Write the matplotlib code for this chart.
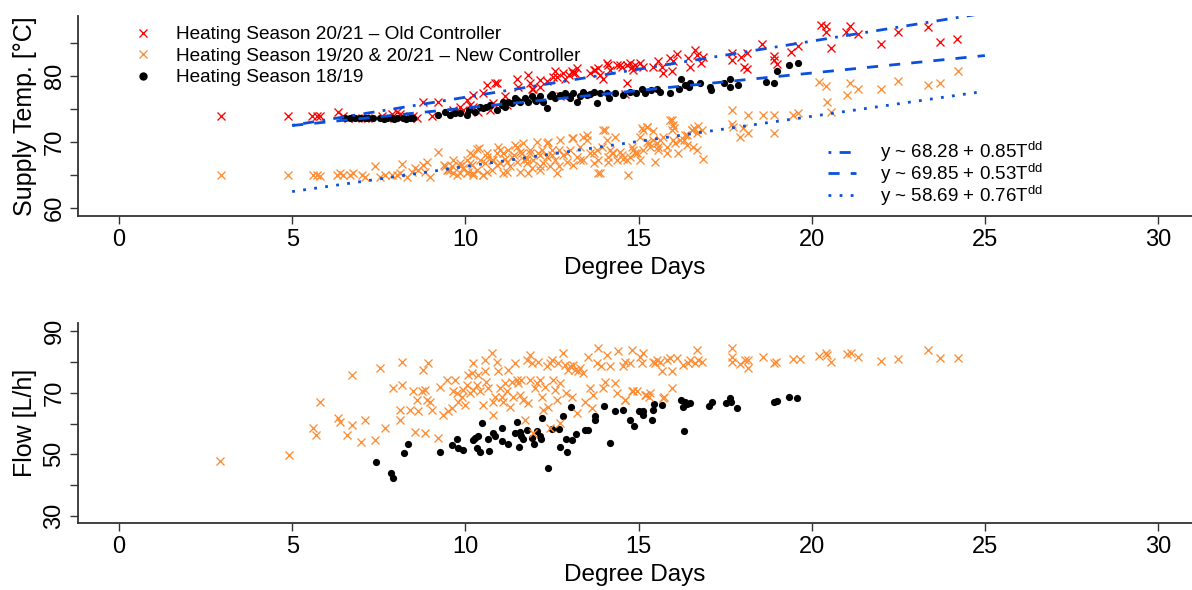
import matplotlib as mpl
mpl.use('Agg')
import matplotlib.pyplot as plt
from matplotlib.lines import Line2D
import numpy as np

plt.rcParams['font.family'] = ['Liberation Sans', 'DejaVu Sans']
plt.rcParams['mathtext.default'] = 'regular'

# heating season 20/21, old controller: (degree days, supply temp)
old_ctrl = np.array([
    (2.95, 74.0), (4.89, 73.9), (5.56, 74.0), (5.71, 74.0), (5.79, 74.0), (6.33, 74.6),
    (6.48, 73.9), (6.62, 73.7), (6.81, 73.7), (7.1, 73.7), (7.2, 73.7), (7.59, 73.9),
    (7.73, 73.7), (7.87, 74.3), (8.02, 74.6), (8.11, 74.2), (8.21, 73.9), (8.4, 73.7),
    (8.5, 73.9), (8.6, 73.7), (8.79, 76.1), (9.03, 73.9), (9.22, 76.1), (9.6, 74.6),
    (9.65, 74.8), (9.75, 74.6), (9.85, 75.35), (9.94, 74.8), (10.04, 76.4), (10.14, 75.6),
    (10.23, 77.1), (10.23, 75.35), (10.37, 74.6), (10.52, 77.4), (10.62, 78.6), (10.71, 74.8),
    (10.81, 75.9), (10.86, 78.9), (10.9, 78.9), (11.15, 76.9), (11.2, 75.6), (11.48, 79.6),
    (11.53, 78.4), (11.82, 80.2), (11.87, 78.9), (11.92, 78.1), (11.96, 78.1), (12.16, 78.4),
    (12.16, 79.4), (12.35, 79.2), (12.54, 79.9), (12.59, 80.7), (12.64, 79.9), (12.73, 76.9),
    (12.83, 80.4), (12.88, 79.6), (12.98, 80.2), (13.07, 80.7), (13.12, 80.4), (13.17, 80.4),
    (13.22, 81.2), (13.6, 80.4), (13.7, 80.9), (13.75, 80.9), (13.84, 81.2), (13.89, 80.2),
    (13.98, 79.6), (14.08, 81.9), (14.13, 81.7), (14.18, 80.9), (14.37, 81.7), (14.46, 81.7),
    (14.51, 81.4), (14.6, 77.2), (14.66, 81.7), (14.66, 78.9), (14.76, 81.9), (14.8, 81.4),
    (14.85, 80.9), (14.9, 81.7), (15.04, 81.9), (15.14, 81.4), (15.43, 81.4), (15.57, 82.2),
    (15.67, 81.4), (15.72, 80.4), (15.91, 82.7), (15.96, 80.7), (16.0, 82.2), (16.1, 83.4),
    (16.44, 82.7), (16.5, 81.3), (16.63, 83.9), (16.68, 83.2), (16.8, 82.0), (16.87, 82.9),
    (17.7, 83.5), (17.7, 82.4), (17.96, 82.9), (18.13, 83.5), (18.05, 81.4), (18.13, 81.1),
    (18.57, 84.8), (18.9, 83.1), (18.9, 82.4), (19.0, 81.8), (19.4, 83.7), (19.6, 84.5),
    (20.27, 87.7), (20.4, 87.5), (20.4, 86.6), (20.56, 84.3), (21.0, 86.7), (21.1, 87.5),
    (21.35, 86.3), (22.0, 84.8), (22.5, 86.7), (23.36, 87.4), (23.7, 85.1), (24.2, 85.6),
])

# heating seasons 19/20 & 20/21, new controller: supply temp
new_ctrl = np.array([
    (2.95, 65.0), (4.89, 65.0), (5.61, 65.0), (5.71, 65.0), (5.79, 64.9), (6.29, 65.0),
    (6.38, 65.3), (6.48, 65.0), (6.67, 65.0), (6.77, 65.3), (7.01, 65.0), (7.1, 64.7),
    (7.39, 66.4), (7.54, 64.7), (7.68, 65.0), (7.87, 65.0), (8.02, 65.0), (8.11, 65.3),
    (8.16, 66.7), (8.31, 64.7), (8.45, 65.5), (8.55, 66.0), (8.64, 65.8), (8.79, 66.5),
    (8.84, 65.5), (8.88, 67.0), (8.98, 64.7), (9.22, 68.5),
    (9.37, 66.5), (9.51, 65.8), (9.61, 66.3), (9.65, 65.3), (9.75, 65.0), (9.85, 66.8),
    (9.94, 66.0), (10.04, 67.3), (10.09, 65.5), (10.14, 68.3), (10.18, 66.5), (10.23, 65.0),
    (10.33, 65.8), (10.38, 69.1), (10.42, 67.3), (10.52, 65.0), (10.57, 66.8), (10.62, 67.8),
    (10.76, 65.8), (10.81, 67.3), (10.9, 68.3), (10.95, 69.3), (11.0, 66.8), (11.1, 65.3),
    (11.15, 67.5), (11.24, 68.8), (11.29, 66.3), (11.39, 68.0), (11.43, 69.5), (11.48, 67.0),
    (11.58, 65.5), (11.63, 68.3), (11.67, 69.8), (11.77, 67.5), (11.87, 68.8), (11.92, 66.0),
    (11.96, 67.3), (12.06, 70.05), (12.11, 68.3), (12.16, 65.8), (12.25, 66.8), (12.35, 67.8),
    (12.4, 70.05), (12.49, 68.8), (12.59, 67.3), (12.69, 66.3), (12.73, 70.3), (12.83, 68.0),
    (12.93, 67.0), (13.02, 68.8), (13.12, 70.6), (13.22, 67.8), (13.31, 69.3), (13.41, 67.3),
    (13.5, 71.1), (13.6, 68.3), (13.7, 66.8), (13.84, 65.3), (13.94, 69.3), (14.04, 71.8),
    (14.13, 67.8), (14.23, 68.3), (14.32, 70.8), (14.47, 68.5), (14.56, 67.5), (14.71, 65.0),
    (14.8, 69.3), (14.9, 68.3), (15.04, 67.3), (15.14, 71.8), (15.24, 72.3), (15.29, 69.8),
    (15.48, 67.0), (15.57, 68.8), (15.72, 70.8), (15.81, 68.3), (15.96, 71.8), (15.96, 73.3),
    (16.06, 69.8), (16.15, 68.3), (16.3, 70.3), (16.39, 71.1), (16.54, 71.8), (16.68, 71.3),
    (15.91, 73.3), (16.0, 72.6), (16.53, 71.8), (16.82, 71.8), (16.34, 71.1), (16.2, 70.3),
    (16.39, 69.5), (16.58, 69.3), (16.87, 67.5), (16.68, 68.8), (15.62, 70.3), (15.53, 69.8),
    (15.33, 69.3), (15.14, 68.8), (14.95, 68.3), (14.76, 67.8), (14.66, 67.3), (14.51, 68.0),
    (14.27, 68.3), (14.13, 67.0), (13.89, 65.3), (14.08, 70.3), (13.98, 71.8), (13.5, 70.3),
    (13.41, 70.8), (13.07, 70.6), (12.93, 68.3), (12.69, 68.8), (12.49, 68.0), (12.35, 69.8),
    (12.16, 68.0), (12.2, 68.8), (11.87, 68.3), (11.58, 68.5), (11.48, 69.3), (11.77, 66.8),
    (11.34, 67.8), (11.2, 67.0), (11.0, 68.8), (10.9, 66.5), (10.76, 67.3), (10.62, 65.5),
    (10.52, 65.0), (10.33, 69.0), (10.23, 68.0), (10.14, 66.8), (10.04, 65.3), (9.85, 66.3),
    (9.65, 67.3), (9.56, 65.8), (9.41, 66.3), (10.23, 65.3), (11.2, 65.5), (11.82, 65.3),
    (12.44, 66.3), (12.64, 65.3), (13.12, 66.5), (13.31, 67.3), (13.7, 68.3), (13.84, 67.3),
    (14.18, 68.8), (14.37, 67.3), (15.04, 70.8), (15.24, 70.0), (15.43, 70.3), (15.57, 69.3),
    (15.81, 69.3), (16.0, 70.3), (14.85, 68.8), (13.79, 68.8), (12.16, 66.3), (11.1, 68.3),
    (11.68, 67.3), (10.62, 68.3), (9.85, 65.3), (9.46, 65.8),
    (15.09, 72.1), (15.25, 72.3), (15.41, 71.6), (16.61, 72.1), (16.72, 72.4), (16.01, 72.1),
    (17.7, 74.8), (17.7, 72.7), (17.72, 72.2), (17.94, 70.8), (18.03, 72.1), (18.16, 71.4),
    (18.16, 74.1), (18.59, 74.1), (18.92, 74.1), (18.92, 71.3), (19.45, 74.1), (19.61, 74.35),
    (20.21, 79.1), (20.4, 78.5), (20.43, 76.0), (20.56, 74.6), (21.03, 77.1), (21.1, 79.0),
    (21.35, 78.0), (22.0, 78.0), (22.5, 79.3), (23.36, 78.6), (23.7, 79.0), (24.22, 80.8),
])

# heating season 18/19: supply temp
season_1819 = np.array([
    (6.53, 73.6), (6.67, 73.7), (6.81, 73.6), (6.96, 73.7), (7.1, 73.6), (7.2, 73.7),
    (7.34, 73.7), (7.54, 73.7), (7.73, 73.7), (7.87, 73.7), (8.02, 73.7), (8.21, 73.7),
    (8.4, 73.7), (8.5, 73.6), (7.65, 73.5), (7.95, 73.5), (8.3, 73.5), (9.22, 74.1),
    (9.41, 74.6), (9.56, 74.1), (9.85, 74.35), (10.04, 74.1), (10.28, 74.6), (10.42, 75.35),
    (10.52, 75.1), (10.71, 75.6), (10.9, 74.8), (11.05, 75.6), (11.15, 75.35), (11.24, 76.1),
    (11.34, 75.9), (11.43, 76.65), (11.58, 76.1), (11.72, 76.65), (11.82, 76.1), (11.92, 76.9),
    (12.01, 76.4), (12.16, 76.9), (12.25, 76.1), (12.35, 75.1), (12.44, 76.9), (12.59, 76.65),
    (12.73, 77.1), (12.88, 77.4), (13.02, 76.65), (13.12, 77.4), (13.22, 76.1), (13.41, 77.65),
    (13.5, 77.1), (13.7, 77.65), (13.79, 75.9), (13.89, 77.4), (14.08, 77.4),
    (9.7, 74.4), (10.1, 74.9), (10.6, 75.3), (11.1, 76.0), (11.5, 76.3), (12.05, 76.2),
    (12.5, 77.2), (12.95, 77.0), (13.3, 76.9), (13.6, 77.3),
    (14.16, 76.6), (14.33, 77.4), (14.54, 77.1), (14.76, 77.6), (14.92, 77.4), (15.09, 78.1),
    (15.2, 77.4), (15.36, 77.9), (15.52, 78.1), (15.63, 77.6), (15.9, 77.4), (16.18, 78.1),
    (16.23, 79.6), (16.34, 78.6), (16.45, 78.4), (16.5, 78.9), (16.78, 78.9), (17.05, 78.4),
    (17.1, 77.9), (17.48, 78.9), (17.65, 79.6), (17.65, 78.4), (17.86, 78.6), (18.68, 79.1),
    (18.9, 78.9), (19.01, 80.7), (19.34, 81.7), (19.61, 81.9),
])

# flow, new controller
new_flow = np.array([
    (2.92, 48.0), (4.91, 49.8), (5.59, 58.5), (5.68, 56.3), (5.79, 67.1),
    (6.33, 61.7), (6.38, 60.6), (6.57, 56.3), (6.72, 75.8), (6.72, 59.5), (7.0, 54.1),
    (7.1, 61.2), (7.39, 54.7), (7.53, 77.9), (7.68, 58.5), (7.92, 71.5), (8.11, 64.4),
    (8.16, 80.1), (8.16, 72.5), (8.11, 61.2), (8.4, 64.4), (8.5, 70.4), (8.54, 57.4),
    (8.59, 67.7), (8.64, 63.9), (8.74, 70.4), (8.79, 77.4), (8.83, 70.9), (8.83, 56.8),
    (8.88, 67.7), (8.93, 79.6), (8.98, 67.1), (9.03, 64.4), (9.22, 55.2), (9.27, 72.0),
    (9.36, 62.8), (9.46, 74.2), (9.51, 63.9), (9.6, 65.0), (9.65, 70.4), (9.7, 74.2),
    (9.75, 69.8), (9.8, 67.1), (9.89, 68.7), (9.94, 70.9), (9.99, 66.0), (10.04, 72.5),
    (10.08, 75.8), (10.13, 69.8), (10.18, 76.3), (10.23, 79.6), (10.23, 70.9), (10.33, 72.5),
    (10.37, 75.8), (10.42, 70.4), (10.52, 66.0), (10.57, 76.9), (10.57, 80.7), (10.61, 73.6),
    (10.66, 71.5), (10.76, 82.8), (10.81, 67.1), (10.81, 62.8), (10.85, 68.7), (10.9, 80.1),
    (10.95, 76.9), (11.0, 71.5), (11.05, 68.7), (11.1, 67.1), (11.14, 73.1), (11.19, 70.4),
    (11.24, 77.4), (11.29, 65.5), (11.34, 73.6), (11.38, 68.7), (11.43, 79.6), (11.48, 74.2),
    (11.53, 73.1), (11.58, 69.3), (11.62, 74.2), (11.67, 67.7), (11.72, 61.2), (11.77, 80.7),
    (11.82, 66.6), (11.87, 82.3), (11.87, 74.2), (11.91, 79.6), (11.96, 56.8), (12.01, 71.5),
    (12.06, 73.1), (12.11, 80.1), (12.15, 74.2), (12.2, 68.7), (12.25, 64.4), (12.3, 72.0),
    (12.35, 78.5), (12.39, 65.5), (12.44, 79.6), (12.44, 58.5), (12.49, 80.7), (12.54, 74.2),
    (12.59, 70.9), (12.64, 67.7), (12.68, 79.6), (12.73, 73.1), (12.73, 60.1), (12.83, 82.8),
    (12.88, 79.0), (12.92, 69.8), (12.97, 77.4), (13.02, 78.5), (13.07, 68.7), (13.12, 79.0),
    (13.16, 77.4), (13.21, 63.3), (13.26, 76.9), (13.31, 77.9), (13.4, 76.3), (13.45, 67.1),
    (13.55, 81.7), (13.6, 71.5), (13.65, 65.0), (13.69, 69.3), (13.79, 79.6), (13.84, 84.4),
    (13.93, 78.5), (13.98, 71.5), (14.03, 73.6), (14.08, 82.3), (14.18, 78.5), (14.32, 73.1),
    (14.37, 69.8), (14.42, 83.4), (14.56, 78.5), (14.61, 67.7), (14.61, 80.1), (14.75, 79.6),
    (14.8, 83.9), (14.85, 70.4), (14.95, 70.4), (15.04, 81.7), (15.09, 79.6), (15.14, 82.8),
    (15.23, 69.3), (15.33, 69.8), (15.43, 80.1), (15.47, 79.6), (15.52, 80.7), (15.62, 80.1),
    (15.67, 76.9), (15.72, 68.2), (15.81, 80.7), (15.91, 81.2), (15.96, 76.9), (15.96, 71.5),
    (16.1, 81.2), (16.29, 79.0), (16.44, 79.6), (16.49, 80.7), (16.63, 79.6), (16.68, 83.9),
    (16.73, 80.7), (16.82, 80.1), (14.6, 67.7), (14.81, 70.4), (15.2, 69.3), (15.3, 68.7),
    (15.74, 68.7),
    (17.7, 84.4), (17.7, 81.5), (17.7, 80.1), (17.94, 79.4), (18.08, 80.6), (18.16, 77.9),
    (18.16, 80.6), (18.6, 81.7), (18.92, 79.6), (18.96, 80.1), (19.45, 80.9), (19.65, 80.9),
    (20.21, 81.9), (20.4, 82.8), (20.43, 82.3), (20.56, 79.8), (21.03, 82.6), (21.14, 82.8),
    (21.35, 81.7), (22.0, 80.3), (22.5, 80.9), (23.36, 83.7), (23.7, 81.4), (24.22, 81.4),
])

# flow, heating season 18/19
flow_1819 = np.array([
    (7.42, 47.6), (7.85, 44.1), (7.9, 42.2), (8.24, 50.4), (8.33, 53.3), (9.27, 50.9),
    (9.6, 53.1), (9.75, 54.9), (9.8, 52.0), (9.94, 51.4), (10.23, 54.7), (10.28, 55.2),
    (10.33, 52.0), (10.37, 55.8), (10.42, 50.9), (10.47, 60.3), (10.66, 54.9), (10.69, 51.1),
    (10.81, 56.8), (10.87, 56.0), (11.07, 58.5), (11.07, 54.4), (11.22, 53.3), (11.43, 56.8),
    (11.48, 60.4), (11.55, 52.5), (11.58, 57.4), (11.62, 55.8), (11.67, 54.9), (11.77, 57.9),
    (11.91, 55.2), (11.99, 53.3), (12.06, 57.6), (12.15, 56.0), (12.22, 61.7), (12.18, 55.0),
    (12.38, 45.5), (12.49, 58.1), (12.71, 58.1), (12.73, 52.3), (12.83, 62.3), (12.9, 55.0),
    (12.94, 50.8), (13.05, 65.2), (13.07, 54.7), (13.19, 56.5), (13.45, 57.9), (13.55, 57.9),
    (13.74, 62.3), (13.74, 61.2), (14.0, 65.7), (14.18, 53.8), (14.32, 63.9), (14.54, 64.4),
    (14.75, 61.2), (14.87, 59.2), (15.0, 64.2), (15.12, 62.8), (15.14, 64.2), (15.38, 61.2),
    (15.41, 64.4), (15.46, 66.4), (15.69, 66.0), (16.24, 67.7), (16.27, 65.3), (16.34, 67.1),
    (16.32, 57.6), (16.49, 66.6), (16.39, 66.4), (17.03, 65.8), (17.13, 67.1), (17.52, 66.6),
    (17.65, 68.2), (17.67, 67.1), (17.85, 65.0), (18.9, 67.1), (19.01, 67.4), (19.34, 68.5),
    (19.58, 68.4),
])

# linear fits of supply temp vs degree days
fit_labels = [r'y ~ 68.28 + 0.85T$^{dd}$', r'y ~ 69.85 + 0.53T$^{dd}$', r'y ~ 58.69 + 0.76T$^{dd}$']
fit_a = [68.28, 69.85, 58.69]
fit_b = [0.85, 0.53, 0.76]
fit_range = [5, 25]

red = '#FF0000'
orange = '#FF8C32'
blue = '#0A50DC'
dash_styles = [(0, (1, 3, 4, 3)), (0, (4, 4)), (0, (1, 3))]

W, H = 1192, 590
fig = plt.figure(figsize=(W / 100, H / 100), dpi=100)
ax1 = fig.add_axes([78 / W, 1 - 216 / H, 1 - 78 / W, 200 / H])
ax2 = fig.add_axes([78 / W, 1 - 523 / H, 1 - 78 / W, 200 / H])

xk = dict(linestyle='none', marker='x', ms=6, mew=0.95)
dot = dict(linestyle='none', marker='o', ms=5.2, color='black', mew=0)
ax1.plot(old_ctrl[:, 0], old_ctrl[:, 1], color=red, **xk)
ax1.plot(new_ctrl[:, 0], new_ctrl[:, 1], color=orange, **xk)
ax1.plot(season_1819[:, 0], season_1819[:, 1], **dot)

xs = np.array(fit_range)
for a, b, ls in zip(fit_a, fit_b, dash_styles):
    ax1.plot(xs, a + b * xs, color=blue, lw=2.0, linestyle=ls)

ax2.plot(flow_1819[:, 0], flow_1819[:, 1], **dot)
ax2.plot(new_flow[:, 0], new_flow[:, 1], color=orange, **xk)

for ax in (ax1, ax2):
    ax.set_xlim(-1.184, 30.98)
    ax.set_xticks([0, 5, 10, 15, 20, 25, 30])
    for s in ('top', 'right'):
        ax.spines[s].set_visible(False)
    for s in ('left', 'bottom'):
        ax.spines[s].set_linewidth(1.3)
        ax.spines[s].set_color('#333333')
    ax.tick_params(direction='out', length=5.5, width=1.0, color='#333333', labelsize=17, pad=4)
    ax.tick_params(axis='y', pad=3.5)
    ax.set_xlabel('Degree Days', fontsize=17.5, labelpad=4)

ax1.set_ylim(58.79, 89.09)
ax1.set_yticks([60, 65, 70, 75, 80, 85])
ax1.set_yticklabels(['60', '', '70', '', '80', ''], rotation=90, va='center')
ax1.set_ylabel('Supply Temp. [°C]', fontsize=18, labelpad=5)

ax2.set_ylim(27.73, 92.6)
ax2.set_yticks([30, 40, 50, 60, 70, 80, 90])
ax2.set_yticklabels(['30', '', '50', '', '70', '', '90'], rotation=90, va='center')
ax2.set_ylabel('Flow [L/h]', fontsize=18, labelpad=5)

h1 = [Line2D([], [], color=red, **xk),
      Line2D([], [], color=orange, **xk),
      Line2D([], [], linestyle='none', marker='o', ms=6, color='black', mew=0)]
leg1 = ax1.legend(h1, ['Heating Season 20/21 – Old Controller',
                       'Heating Season 19/20 & 20/21 – New Controller',
                       'Heating Season 18/19'],
                  loc='upper left', bbox_to_anchor=(133 / W, 1 - 26 / H), bbox_transform=fig.transFigure,
                  frameon=False, fontsize=13.7, handlelength=1.0, handletextpad=1.25,
                  labelspacing=0.22, borderpad=0, borderaxespad=0)
ax1.add_artist(leg1)

h2 = [Line2D([], [], color=blue, lw=2.0, linestyle=ls) for ls in dash_styles]
ax1.legend(h2, fit_labels, loc='upper left', bbox_to_anchor=(828 / W, 1 - 140 / H),
           bbox_transform=fig.transFigure, frameon=False, fontsize=13.5,
           handlelength=1.5, handletextpad=1.25, labelspacing=-0.12, borderpad=0, borderaxespad=0)

fig.savefig('out.png', dpi=100)
